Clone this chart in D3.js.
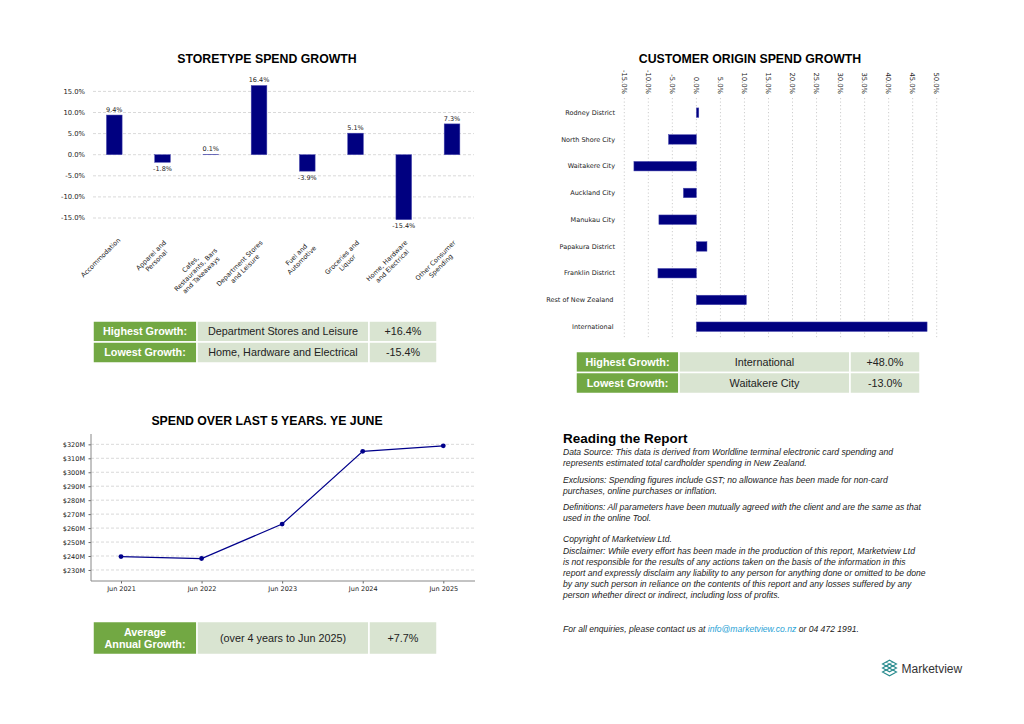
<!DOCTYPE html>
<html><head><meta charset="utf-8">
<script src="https://cdn.jsdelivr.net/npm/d3@7"></script>
<style>body{margin:0;background:#fff}svg{display:block}</style>
</head><body>
<svg id="c" width="1024" height="724"></svg>
<script>
// ---------- data ----------
const storeCategories = ["Accommodation","Apparel and\nPersonal","Cafes,\nRestaurants, Bars\nand Takeaways","Department Stores\nand Leisure","Fuel and\nAutomotive","Groceries and\nLiquor","Home, Hardware\nand Electrical","Other Consumer\nSpending"];
const storeGrowth = [9.4, -1.8, 0.1, 16.4, -3.9, 5.1, -15.4, 7.3];
const storeTicks = [15, 10, 5, 0, -5, -10, -15];

const originCategories = ["Rodney District","North Shore City","Waitakere City","Auckland City","Manukau City","Papakura District","Franklin District","Rest of New Zealand","International"];
const originGrowth = [0.5, -5.8, -13.0, -2.7, -7.8, 2.2, -8.0, 10.4, 48.0];
const originTicks = [-15, -10, -5, 0, 5, 10, 15, 20, 25, 30, 35, 40, 45, 50];

const spendYears = ["Jun 2021","Jun 2022","Jun 2023","Jun 2024","Jun 2025"];
const spendValues = [239.6, 238.2, 262.9, 315.0, 318.9];
const spendTicks = [230, 240, 250, 260, 270, 280, 290, 300, 310, 320];

const storeTable = [["Highest Growth:","Department Stores and Leisure","+16.4%"],["Lowest Growth:","Home, Hardware and Electrical","-15.4%"]];
const originTable = [["Highest Growth:","International","+48.0%"],["Lowest Growth:","Waitakere City","-13.0%"]];
const spendTable = [["Average\nAnnual Growth:","(over 4 years to Jun 2025)","+7.7%"]];

// ---------- style ----------
const NAVY = "#000080", GREEN = "#72a843", LIGHT = "#d9e4d1";
const SMALL = "DejaVu Sans, sans-serif", HEL = "Liberation Sans, Arial, sans-serif";
const svg = d3.select("#c");

function title(x, y, t) {
  svg.append("text").attr("x", x).attr("y", y).attr("text-anchor", "middle")
    .attr("font-family", HEL).attr("font-weight", "bold").attr("font-size", 12.3)
    .attr("fill", "#000").text(t);
}

// ---------- chart 1: storetype ----------
title(267, 62.5, "STORETYPE SPEND GROWTH");
{
  const x = d3.scaleBand().domain(storeCategories).range([90.15, 476.15]).paddingInner(0.675).paddingOuter(0.3375);
  const y = d3.scaleLinear().domain([-18, 18]).range([230.66, 78.74]);
  const g = svg.append("g");
  g.selectAll(".grid").data(storeTicks).join("line")
    .attr("x1", 93).attr("x2", 474).attr("y1", d => y(d)).attr("y2", d => y(d))
    .attr("stroke", "#cfcfcf").attr("stroke-width", 0.8).attr("stroke-dasharray", "3,2");
  g.selectAll(".tk").data(storeTicks).join("text")
    .attr("x", 85).attr("y", d => y(d)).attr("dy", "0.35em").attr("text-anchor", "end")
    .attr("font-family", SMALL).attr("font-size", 6.8).attr("fill", "#222")
    .text(d => d.toFixed(1) + "%");
  g.selectAll(".bar").data(storeGrowth).join("rect")
    .attr("x", (d, i) => x(storeCategories[i])).attr("width", x.bandwidth())
    .attr("y", d => y(Math.max(0, d))).attr("height", d => Math.abs(y(d) - y(0)))
    .attr("fill", NAVY).attr("stroke", "#4a4ab0").attr("stroke-width", 0.5);
  g.selectAll(".vl").data(storeGrowth).join("text")
    .attr("x", (d, i) => x(storeCategories[i]) + x.bandwidth() / 2)
    .attr("y", d => d >= 0 ? y(d) - 3 : y(d) + 8.5)
    .attr("text-anchor", "middle").attr("font-family", SMALL).attr("font-size", 6.5).attr("fill", "#222")
    .text(d => d.toFixed(1) + "%");
  // rotated category labels
  storeCategories.forEach((c, i) => {
    const cx = x(c) + x.bandwidth() / 2;
    const lines = c.split("\n");
    const extra = lines.length - 1;
    const lg = g.append("g").attr("transform", `translate(${cx + 3 - 2.5 * extra},${237 + 2.5 * extra}) rotate(-45)`);
    const ts = lines.map((l, j) => lg.append("text").attr("y", j * 7.6 + 5)
      .attr("text-anchor", "middle").attr("font-family", SMALL).attr("font-size", 6.5)
      .attr("fill", "#222").text(l));
    const W = d3.max(ts, t => t.node().getComputedTextLength());
    ts.forEach(t => t.attr("x", -W / 2));
  });
}

// ---------- chart 2: customer origin ----------
title(750, 62.5, "CUSTOMER ORIGIN SPEND GROWTH");
{
  const x = d3.scaleLinear().domain([-15, 50]).range([624.3, 936.7]);
  const y = d3.scaleBand().domain(originCategories).range([99.3, 340.1]).paddingInner(0.645).paddingOuter(0.3225);
  const g = svg.append("g");
  g.selectAll(".grid").data(originTicks).join("line")
    .attr("x1", d => x(d)).attr("x2", d => x(d)).attr("y1", 98).attr("y2", 338)
    .attr("stroke", "#c8c8c8").attr("stroke-width", 0.9).attr("stroke-dasharray", "1.2,2.3");
  g.selectAll(".tk").data(originTicks).join("text")
    .attr("transform", d => `translate(${x(d)},94) rotate(90)`)
    .attr("dy", "0.35em").attr("text-anchor", "end")
    .attr("font-family", SMALL).attr("font-size", 6.8).attr("fill", "#222")
    .text(d => d.toFixed(1) + "%");
  g.selectAll(".bar").data(originGrowth).join("rect")
    .attr("y", (d, i) => y(originCategories[i])).attr("height", y.bandwidth())
    .attr("x", d => x(Math.min(0, d))).attr("width", d => Math.abs(x(d) - x(0)))
    .attr("fill", NAVY).attr("stroke", "#4a4ab0").attr("stroke-width", 0.5);
  g.selectAll(".cl").data(originCategories).join("text")
    .attr("x", d => d === "Rest of New Zealand" || d === "International" ? 613.5 : 615)
    .attr("y", d => y(d) + y.bandwidth() / 2).attr("dy", "0.35em").attr("text-anchor", "end")
    .attr("font-family", SMALL).attr("font-size", 6.5).attr("fill", "#222").text(d => d);
}

// ---------- chart 3: spend line ----------
title(267, 425, "SPEND OVER LAST 5 YEARS. YE JUNE");
{
  const x = d3.scalePoint().domain(spendYears).range([121, 443.3]);
  const y = d3.scaleLinear().domain([222.1, 327.4]).range([581, 434]);
  const g = svg.append("g");
  g.selectAll(".grid").data(spendTicks).join("line")
    .attr("x1", 91).attr("x2", 475).attr("y1", d => y(d)).attr("y2", d => y(d))
    .attr("stroke", "#cfcfcf").attr("stroke-width", 0.8).attr("stroke-dasharray", "3,2");
  const ya = d3.axisLeft(y).tickValues(spendTicks).tickSize(2.5).tickPadding(3.5).tickFormat(d => "$" + d + "M");
  const yg = g.append("g").attr("transform", "translate(91,0)").call(ya);
  const xa = d3.axisBottom(x).tickSize(2.5).tickPadding(3);
  const xg = g.append("g").attr("transform", "translate(0,581)").call(xa);
  [yg, xg].forEach(a => {
    a.select(".domain").remove();
    a.selectAll("line").attr("stroke", "#666");
    a.selectAll("text").attr("font-family", SMALL).attr("font-size", 6.5).attr("fill", "#222");
  });
  g.append("line").attr("x1", 91).attr("x2", 91).attr("y1", 434).attr("y2", 581).attr("stroke", "#888").attr("stroke-width", 1);
  g.append("line").attr("x1", 91).attr("x2", 475).attr("y1", 581).attr("y2", 581).attr("stroke", "#888").attr("stroke-width", 1);
  const line = d3.line().x((d, i) => x(spendYears[i])).y(d => y(d));
  g.append("path").datum(spendValues).attr("d", line).attr("fill", "none")
    .attr("stroke", "#00008b").attr("stroke-width", 1.2);
  g.selectAll(".pt").data(spendValues).join("circle")
    .attr("cx", (d, i) => x(spendYears[i])).attr("cy", d => y(d)).attr("r", 2.4).attr("fill", "#00008b");
}

// ---------- tables ----------
function table(rows, cols, rowEdges) {
  rows.forEach((r, ri) => {
    const y0 = rowEdges[ri], y1 = rowEdges[ri + 1];
    r.forEach((txt, ci) => {
      const x0 = cols[ci], x1 = cols[ci + 1];
      svg.append("rect").attr("x", x0).attr("y", y0).attr("width", x1 - x0).attr("height", y1 - y0)
        .attr("fill", ci === 0 ? GREEN : LIGHT).attr("stroke", "#fff").attr("stroke-width", 1.5);
      const lines = txt.split("\n");
      const lh = 12.5;
      const cy = (y0 + y1) / 2 - (lines.length - 1) * lh / 2;
      lines.forEach((l, li) => {
        svg.append("text").attr("x", (x0 + x1) / 2).attr("y", cy + li * lh).attr("dy", "0.36em")
          .attr("text-anchor", "middle").attr("font-family", HEL).attr("font-size", 10.8)
          .attr("font-weight", ci === 0 ? "bold" : "normal").attr("fill", ci === 0 ? "#fff" : "#222").text(l);
      });
    });
  });
}
table(storeTable, [93, 197, 369, 437], [321, 342, 363]);
table(originTable, [576, 679, 850, 920], [351.5, 372.5, 393.5]);
table(spendTable, [93, 197, 369, 437], [621.5, 654.5]);

// ---------- reading the report ----------
const rtLines = [
  [455, "Data Source: This data is derived from Worldline terminal electronic card spending and"],
  [466, "represents estimated total cardholder spending in New Zealand."],
  [483, "Exclusions: Spending figures include GST; no allowance has been made for non-card"],
  [494, "purchases, online purchases or inflation."],
  [510, "Definitions: All parameters have been mutually agreed with the client and are the same as that"],
  [521, "used in the online Tool."],
  [542, "Copyright of Marketview Ltd."],
  [554, "Disclaimer: While every effort has been made in the production of this report, Marketview Ltd"],
  [565, "is not responsible for the results of any actions taken on the basis of the information in this"],
  [576, "report and expressly disclaim any liability to any person for anything done or omitted to be done"],
  [587, "by any such person in reliance on the contents of this report and any losses suffered by any"],
  [598, "person whether direct or indirect, including loss of profits."]
];
const BODY = 8.6;
svg.append("text").attr("x", 563).attr("y", 443).attr("font-family", HEL).attr("font-weight", "bold")
  .attr("font-size", 13.5).attr("fill", "#000").text("Reading the Report");
rtLines.forEach(([yy, t]) => svg.append("text").attr("x", 563).attr("y", yy).attr("font-family", HEL)
  .attr("font-style", "italic").attr("font-size", BODY).attr("fill", "#222").text(t));
{
  const t = svg.append("text").attr("x", 563).attr("y", 632).attr("font-family", HEL)
    .attr("font-style", "italic").attr("font-size", BODY).attr("fill", "#222");
  t.append("tspan").text("For all enquiries, please contact us at ");
  t.append("tspan").attr("fill", "#2aa3d6").text("info@marketview.co.nz");
  t.append("tspan").text(" or 04 472 1991.");
}

// ---------- logo ----------
{
  const lg = svg.append("g").attr("fill", "none").attr("stroke", "#2a8c8f").attr("stroke-width", 1.1);
  [664, 668, 672].forEach(cy => {
    lg.append("path").attr("d", `M882.5,${cy} L889.5,${cy - 3.8} L896.5,${cy} L889.5,${cy + 3.8} Z`);
  });
  lg.append("path").attr("d", "M886,662.1 L893,665.9 M893,662.1 L886,665.9").attr("stroke-width", 0.7);
  svg.append("text").attr("x", 901.5).attr("y", 672.5).attr("font-family", HEL).attr("font-size", 12)
    .attr("fill", "#333").text("Marketview");
}
</script>
</body></html>
